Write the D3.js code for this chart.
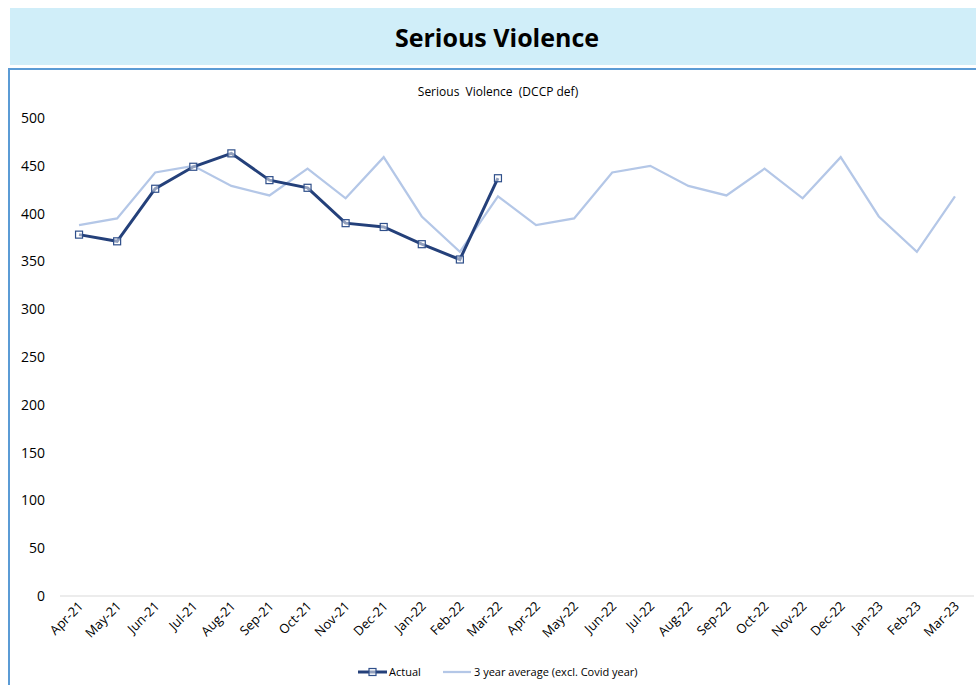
<!DOCTYPE html>
<html>
<head>
<meta charset="utf-8">
<script src="https://cdn.jsdelivr.net/npm/d3@7"></script>
<style>
  body { margin: 0; background: #fff; font-family: "Open Sans", "Noto Sans", sans-serif; }
  text { fill: #000; }
</style>
</head>
<body>
<script>
const width = 976;
const height = 685;

const months = ["Apr-21", "May-21", "Jun-21", "Jul-21", "Aug-21", "Sep-21", "Oct-21", "Nov-21", "Dec-21", "Jan-22", "Feb-22", "Mar-22",
  "Apr-22", "May-22", "Jun-22", "Jul-22", "Aug-22", "Sep-22", "Oct-22", "Nov-22", "Dec-22", "Jan-23", "Feb-23", "Mar-23"];
const actual = [378, 371, 426, 449, 463, 435, 427, 390, 386, 368, 352, 437];
const average = [388, 395, 443, 450, 429, 419, 447, 416, 459, 397, 360, 418,
  388, 395, 443, 450, 429, 419, 447, 416, 459, 397, 360, 418];
const yTicks = [0, 50, 100, 150, 200, 250, 300, 350, 400, 450, 500];

const svg = d3.select("body")
  .append("svg")
  .attr("width", width)
  .attr("height", height);

// title banner
svg.append("rect")
  .attr("x", 10).attr("y", 8)
  .attr("width", width - 10).attr("height", 57)
  .attr("fill", "#D0EEF9");

svg.append("text")
  .attr("x", 497).attr("y", 47)
  .attr("text-anchor", "middle")
  .attr("font-size", 25)
  .attr("font-weight", "bold")
  .text("Serious Violence");

// chart frame (top + left edge)
svg.append("path")
  .attr("d", "M9,685 V69 H976")
  .attr("fill", "none")
  .attr("stroke", "#5B9BD5")
  .attr("stroke-width", 2);

svg.append("text")
  .attr("x", 498).attr("y", 96)
  .attr("text-anchor", "middle")
  .attr("font-size", 12)
  .style("white-space", "pre")
  .text("Serious  Violence  (DCCP def)");

const x = d3.scaleBand()
  .domain(months)
  .range([60, 974]);

const y = d3.scaleLinear()
  .domain([0, 500])
  .range([596, 118]);

const cx = d => x(d) + x.bandwidth() / 2;

// baseline
svg.append("line")
  .attr("x1", 60).attr("x2", 974)
  .attr("y1", y(0)).attr("y2", y(0))
  .attr("stroke", "#D9D9D9")
  .attr("stroke-width", 1);

// y axis labels
svg.append("g")
  .selectAll("text")
  .data(yTicks)
  .enter()
  .append("text")
  .attr("x", 45)
  .attr("y", d => y(d))
  .attr("dy", "0.35em")
  .attr("text-anchor", "end")
  .attr("font-size", 14)
  .attr("fill", "#262626")
  .text(d => d);

// x axis labels
svg.append("g")
  .selectAll("text")
  .data(months)
  .enter()
  .append("text")
  .attr("transform", d => `translate(${cx(d) + 5},${y(0) + 11}) rotate(-45)`)
  .attr("text-anchor", "end")
  .attr("font-size", 13)
  .attr("fill", "#262626")
  .text(d => d);

const line = d3.line()
  .x((d, i) => cx(months[i]))
  .y(d => y(d));

// 3 year average
svg.append("path")
  .datum(average)
  .attr("d", line)
  .attr("fill", "none")
  .attr("stroke", "#B4C7E7")
  .attr("stroke-width", 2.25);

// actual
svg.append("path")
  .datum(actual)
  .attr("d", line)
  .attr("fill", "none")
  .attr("stroke", "#24407A")
  .attr("stroke-width", 3);

svg.append("g")
  .selectAll("rect")
  .data(actual)
  .enter()
  .append("rect")
  .attr("x", (d, i) => cx(months[i]) - 3.5)
  .attr("y", d => y(d) - 3.5)
  .attr("width", 7)
  .attr("height", 7)
  .attr("fill", "#fff")
  .attr("fill-opacity", 0.5)
  .attr("stroke", "#2F4F8A")
  .attr("stroke-width", 1.2);

// legend
const legend = svg.append("g").attr("font-size", 11);
legend.append("line")
  .attr("x1", 358).attr("x2", 387).attr("y1", 672).attr("y2", 672)
  .attr("stroke", "#24407A").attr("stroke-width", 3);
legend.append("rect")
  .attr("x", 369).attr("y", 668.5).attr("width", 7).attr("height", 7)
  .attr("fill", "#fff").attr("fill-opacity", 0.5)
  .attr("stroke", "#2F4F8A").attr("stroke-width", 1.2);
legend.append("text")
  .attr("x", 389).attr("y", 672).attr("dy", "0.35em")
  .attr("fill", "#262626")
  .text("Actual");
legend.append("line")
  .attr("x1", 443).attr("x2", 471).attr("y1", 672).attr("y2", 672)
  .attr("stroke", "#B4C7E7").attr("stroke-width", 2.25);
legend.append("text")
  .attr("x", 474).attr("y", 672).attr("dy", "0.35em")
  .attr("fill", "#262626")
  .text("3 year average (excl. Covid year)");
</script>
</body>
</html>
